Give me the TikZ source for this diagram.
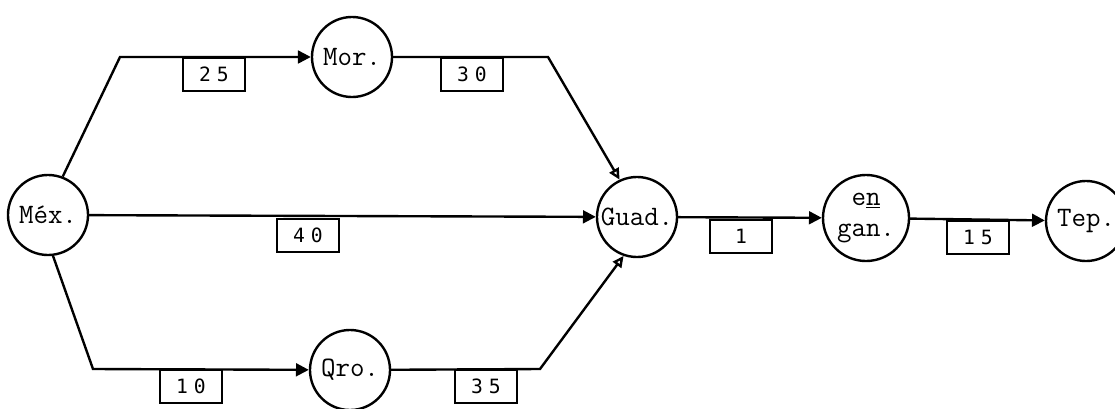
\documentclass[tikz,border=0pt]{standalone}
\usepackage{fontspec}
\newfontfamily\numfont[LetterSpace=30]{DejaVu Sans Mono}
\usetikzlibrary{arrows.meta}

\tikzset{
  city/.style={draw, circle, line width=1.7pt, minimum size=2cm, inner sep=0pt,
    font=\ttfamily\fontsize{20}{22}\selectfont},
  cost/.style={draw, rectangle, line width=1.4pt, minimum width=1.55cm,
    minimum height=0.83cm, anchor=north, font=\numfont\fontsize{14}{14}\selectfont},
  road/.style={line width=1.7pt, -{Triangle[length=0.32cm, width=0.32cm]}},
  merge/.style={line width=1.7pt, -{Triangle[open, length=0.28cm, width=0.26cm]}},
}

\begin{document}
\begin{tikzpicture}[x=0.025cm, y=-0.025cm]
    \useasboundingbox (0,0) rectangle (1115,408);

    % cities
    \node[city] (mex) at (48,215) {Méx.};
    \node[city] (mor) at (352,57) {Mor.};
    \node[city] (qro) at (350,370) {Qro.};
    \node[city] (guad) at (637,217) {Guad.};
    \node[city, minimum size=2.15cm, align=center] (engan) at (866,218)
        {e\underline{n}\\gan.};
    \node[city] (tep) at (1086,221) {Tep.};

    % bends of the upper and lower routes
    \coordinate (tl) at (120,57);
    \coordinate (tr) at (548,57);
    \coordinate (bl) at (93,369);
    \coordinate (br) at (540,369);

    % routes
    \draw[road] (mex.69) -- (tl) -- (mor);
    \draw[merge] (mor) -- (tr) -- (guad.115);
    \draw[road] (mex) -- (guad);
    \draw[road] (mex.-83) -- (bl) -- (qro);
    \draw[merge] (qro) -- (br) -- (guad.-109);
    \draw[road] (guad) -- (engan);
    \draw[road] (engan) -- (tep);

    % times on each route
    \node[cost] (c25) at (214,57) {25};
    \node[cost] (c30) at (472,57) {30};
    \node[cost] (c40) at (308,218) {40};
    \node[cost] (c10) at (191,369) {10};
    \node[cost] (c35) at (486,369) {35};
    \node[cost] (c1) at (741,219) {1};
    \node[cost] (c15) at (978,220) {15};

\end{tikzpicture}
\end{document}
